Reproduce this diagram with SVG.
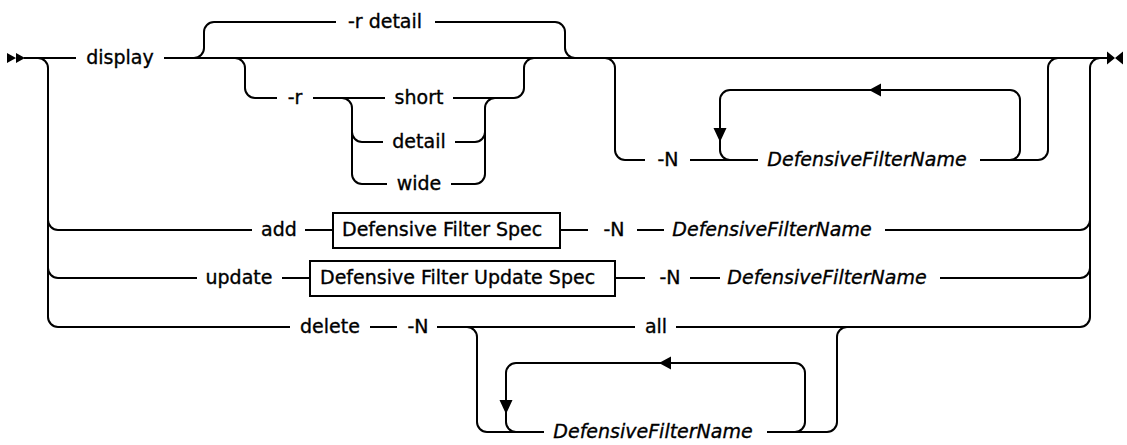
<svg xmlns="http://www.w3.org/2000/svg" width="1127" height="445" viewBox="0 0 1127 445">
<style>
.ln{fill:none;stroke:#000;stroke-width:2}
.bx{fill:#fff;stroke:#000;stroke-width:2}
.ar{fill:#000;stroke:none}
.t{font-family:"DejaVu Sans","Liberation Sans",sans-serif;font-size:19px;fill:#000;stroke:#000;stroke-width:0.35}
.c{text-anchor:middle}
.i{font-style:italic}
</style>
<rect width="1127" height="445" fill="#fff"/>
<g id="connectors">
<path class="ln" d="M24 58 H76 M164 58 H1108"/>
<path class="ln" d="M38 58 A10 10 0 0 1 48 68 V317 A10 10 0 0 0 58 327 H290"/>
<path class="ln" d="M48 220 A10 10 0 0 0 58 230 H252"/>
<path class="ln" d="M48 268 A10 10 0 0 0 58 278 H197"/>
<path class="ln" d="M1100 58 A10 10 0 0 0 1090 68 V317 A10 10 0 0 1 1080 327 H676"/>
<path class="ln" d="M1080 230 A10 10 0 0 0 1090 220 M1080 278 A10 10 0 0 0 1090 268"/>
<path class="ln" d="M194 58 A10 10 0 0 0 204 48 V32 A10 10 0 0 1 214 22 H336 M435 22 H555 A10 10 0 0 1 565 32 V48 A10 10 0 0 0 575 58"/>
<path class="ln" d="M235 58 A10 10 0 0 1 245 68 V88 A10 10 0 0 0 255 98 H277 M313 98 H385"/>
<path class="ln" d="M342 98 A10 10 0 0 1 352 108 V174 A10 10 0 0 0 362 184 H387 M352 132 A10 10 0 0 0 362 142 H383"/>
<path class="ln" d="M453 98 H514 A10 10 0 0 0 524 88 V68 A10 10 0 0 1 534 58"/>
<path class="ln" d="M455 142 H475 A10 10 0 0 0 485 132 M451 184 H475 A10 10 0 0 0 485 174 V108 A10 10 0 0 1 495 98"/>
<path class="ln" d="M605 58 A10 10 0 0 1 615 68 V150 A10 10 0 0 0 625 160 H645 M690 160 H758 M980 160 H1038 A10 10 0 0 0 1048 150 V68 A10 10 0 0 1 1058 58"/>
<path class="ln" d="M1010 160 A10 10 0 0 0 1020 150 V100 A10 10 0 0 0 1010 90 H730 A10 10 0 0 0 720 100 V150 A10 10 0 0 0 730 160"/>
<path class="ar" d="M869 90 L881 83.5 L881 96.5 Z M720 142 L713.5 128 L726.5 128 Z"/>
<path class="ln" d="M305 230 H333 M560 230 H588 M637 230 H664 M885 230 H1080"/>
<path class="ln" d="M282 278 H310 M615 278 H645 M690 278 H720 M940 278 H1080"/>
<path class="ln" d="M370 327 H397 M437 327 H635"/>
<path class="ln" d="M467 327 A10 10 0 0 1 477 337 V422 A10 10 0 0 0 487 432 H544 M767 432 H827 A10 10 0 0 0 837 422 V337 A10 10 0 0 1 847 327"/>
<path class="ln" d="M795 432 A10 10 0 0 0 805 422 V373 A10 10 0 0 0 795 363 H516 A10 10 0 0 0 506 373 V422 A10 10 0 0 0 516 432"/>
<path class="ar" d="M659 363 L671 356.5 L671 369.5 Z M506 414 L499.5 400 L512.5 400 Z"/>
<path class="ar" d="M7 53 L16 58 L7 63 Z M16 53 L25 58 L16 63 Z"/>
<path class="ar" d="M1107 51.5 L1115 58 L1107 64.5 Z M1123 51.5 L1115 58 L1123 64.5 Z"/>
</g>
<g id="n-display"><text class="t c" x="120" y="64">display</text></g>
<g id="n-r-detail"><text class="t c" x="385" y="28">-r detail</text></g>
<g id="n-r"><text class="t c" x="295" y="104">-r</text></g>
<g id="n-short"><text class="t c" x="419" y="104">short</text></g>
<g id="n-detail"><text class="t c" x="419" y="148">detail</text></g>
<g id="n-wide"><text class="t c" x="419" y="190">wide</text></g>
<g id="n-N1"><text class="t c" x="668" y="166">-N</text></g>
<g id="n-name1"><text class="t c i" x="867" y="166">DefensiveFilterName</text></g>
<g id="n-add"><text class="t c" x="279" y="236">add</text></g>
<g id="n-spec"><rect class="bx" x="333" y="213" width="227" height="35"/><text class="t" x="342" y="236">Defensive Filter Spec</text></g>
<g id="n-N2"><text class="t c" x="614" y="236">-N</text></g>
<g id="n-name2"><text class="t c i" x="772" y="236">DefensiveFilterName</text></g>
<g id="n-update"><text class="t c" x="239" y="284">update</text></g>
<g id="n-updspec"><rect class="bx" x="310" y="261" width="305" height="35"/><text class="t" x="320" y="284">Defensive Filter Update Spec</text></g>
<g id="n-N3"><text class="t c" x="670" y="284">-N</text></g>
<g id="n-name3"><text class="t c i" x="827" y="284">DefensiveFilterName</text></g>
<g id="n-delete"><text class="t c" x="330" y="333">delete</text></g>
<g id="n-N4"><text class="t c" x="418" y="333">-N</text></g>
<g id="n-all"><text class="t c" x="656" y="333">all</text></g>
<g id="n-name4"><text class="t c i" x="653" y="438">DefensiveFilterName</text></g>
</svg>
